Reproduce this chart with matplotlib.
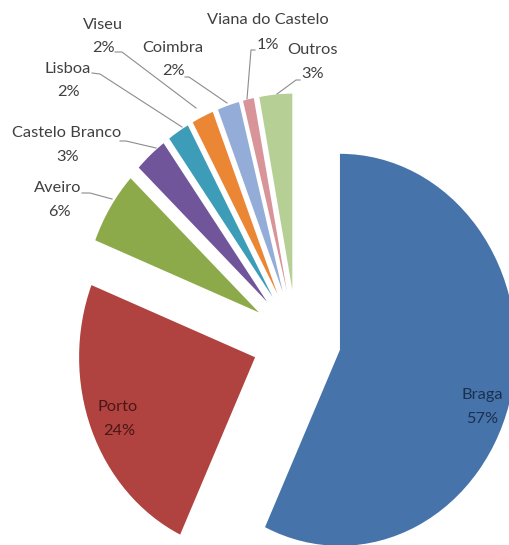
import matplotlib
matplotlib.use("Agg")
import matplotlib.pyplot as plt

# data
cidades = ["Braga", "Porto", "Aveiro", "Castelo Branco", "Lisboa", "Viseu",
           "Coimbra", "Viana do Castelo", "Outros"]
percent = [57, 24, 6, 3, 2, 2, 2, 1, 3]
cores = ["#4673AA", "#B0433F", "#8DAA4B", "#71559A", "#3D9DB8", "#EB8634",
         "#94ADD8", "#D89498", "#B6CF95"]

W, H = 509, 545
fig = plt.figure(figsize=(W / 100, H / 100), dpi=100)

# pie axes: the original is stretched vertically, so aspect is not equal
cx, cy = 296.5, 339.0   # centre in pixels
rx, ry = 176.0, 196.0   # radius in pixels (x, y)
ax = fig.add_axes([0, 0, 1, 1])
ax.pie(percent, colors=cores, startangle=90, counterclock=False,
       explode=[0.253] * len(percent), radius=1,
       wedgeprops={"linewidth": 0})
ax.set_aspect("auto")
ax.set_xlim(-cx / rx, (W - cx) / rx)
ax.set_ylim(-(H - cy) / ry, cy / ry)
ax.axis("off")

# overlay in pixel coordinates for labels and leader lines
lab = fig.add_axes([0, 0, 1, 1])
lab.set_xlim(0, W)
lab.set_ylim(H, 0)
lab.axis("off")
lab.patch.set_alpha(0)

fonte = "Lato"
fs = 11.8
cinza = "#404040"

# (name line centre, percent line centre) in pixels
pos = {
    "Braga": ((482, 395), (482, 419)),
    "Porto": ((118, 407), (119, 431)),
    "Aveiro": ((58, 188), (59, 212)),
    "Castelo Branco": ((67, 133), (68, 157)),
    "Lisboa": ((68, 69), (69, 92)),
    "Viseu": ((103, 25), (104, 48)),
    "Coimbra": ((173, 48), (174, 71)),
    "Viana do Castelo": ((268, 20), (268, 45)),
    "Outros": ((313, 50), (313, 74)),
}
cor_txt = {"Braga": "#1B3050", "Porto": "#4A1616"}

for nome, p in zip(cidades, percent):
    (x1, y1), (x2, y2) = pos[nome]
    c = cor_txt.get(nome, cinza)
    lab.text(x1, y1, nome, ha="center", va="center", fontsize=fs,
             family=fonte, color=c)
    lab.text(x2, y2, "%d%%" % p, ha="center", va="center", fontsize=fs,
             family=fonte, color=c)

# leader lines
linhas = [
    [(82, 193), (90, 193), (112, 199)],
    [(120, 141), (126, 141), (156, 148)],
    [(92, 73), (100, 74), (182, 127)],
    [(115, 52), (122, 52), (196, 108)],
    [(185, 77), (189, 77), (227, 103)],
    [(255, 50), (251, 50), (247, 99)],
    [(300, 80), (296, 80), (277, 94)],
]
for ln in linhas:
    xs = [a for a, b in ln]
    ys = [b for a, b in ln]
    lab.plot(xs, ys, color="#8C8C8C", lw=0.8)

fig.savefig("out.png", dpi=100, facecolor="white")
